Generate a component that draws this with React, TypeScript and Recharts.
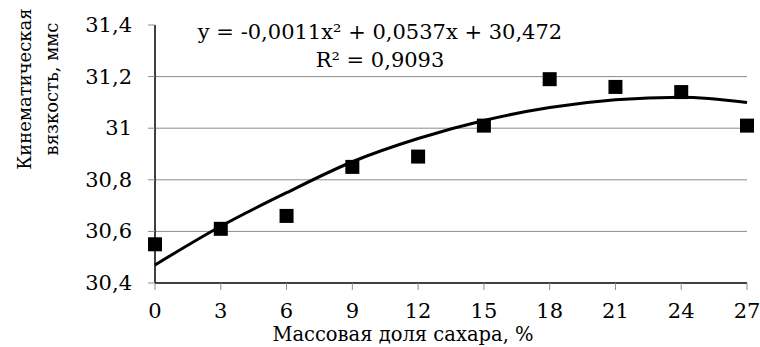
import React from "react";
import {
  ComposedChart,
  Scatter,
  Line,
  XAxis,
  YAxis,
  ReferenceLine,
  Customized,
} from "recharts";

const sugarShare = [0, 3, 6, 9, 12, 15, 18, 21, 24, 27];
const viscosity = [30.55, 30.61, 30.66, 30.85, 30.89, 31.01, 31.19, 31.16, 31.14, 31.01];
// trend line values at each x
const trendValues = [30.47, 30.62, 30.75, 30.87, 30.96, 31.03, 31.08, 31.11, 31.12, 31.1];
const yTicks = [30.4, 30.6, 30.8, 31, 31.2, 31.4];
const gridValues = [30.6, 30.8, 31, 31.2];

const points = sugarShare.map((x, i) => ({ x, y: viscosity[i] }));
const trend = sugarShare.map((x, i) => ({ x, t: trendValues[i] }));

const FONT = "DejaVu Serif";

const fmt = (v: number) =>
  Number.isInteger(v) ? String(v) : v.toFixed(1).replace(".", ",");

const Square = (props: any) => {
  const { cx, cy } = props;
  return <rect x={cx - 7} y={cy - 7} width={14} height={14} fill="#000" />;
};

const XTick = (props: any) => {
  const { x, y, payload } = props;
  return (
    <text x={x} y={y} dy={28} textAnchor="middle" fontSize={21} fill="#000" style={{ fontFamily: FONT }}>
      {payload.value}
    </text>
  );
};

const YTick = (props: any) => {
  const { x, y, payload } = props;
  return (
    <text x={x} y={y} dy={7} textAnchor="end" fontSize={21} fill="#000" style={{ fontFamily: FONT }}>
      {fmt(payload.value)}
    </text>
  );
};

const Texts = () => (
  <g fill="#000" style={{ fontFamily: FONT }}>
    <text x={380} y={39} fontSize={21} textAnchor="middle" style={{ fontFamily: FONT }}>
      y = -0,0011x² + 0,0537x + 30,472
    </text>
    <text x={380} y={67} fontSize={21} textAnchor="middle" style={{ fontFamily: FONT }}>
      R² = 0,9093
    </text>
    <text x={31} y={89} fontSize={18} textAnchor="middle" transform="rotate(-90 31 89)" style={{ fontFamily: FONT }}>
      Кинематическая
    </text>
    <text x={58} y={89} fontSize={18} textAnchor="middle" transform="rotate(-90 58 89)" style={{ fontFamily: FONT }}>
      вязкость, ммс
    </text>
    <text x={403} y={341} fontSize={19.5} textAnchor="middle" style={{ fontFamily: FONT }}>
      Массовая доля сахара, %
    </text>
  </g>
);

export default function App() {
  return (
    <div style={{ position: "absolute", left: 0, top: 0, background: "#fff" }}>
      <ComposedChart
        width={760}
        height={347}
        margin={{ top: 25, right: 13, bottom: 0, left: 0 }}
      >
        {gridValues.map((v) => (
          <ReferenceLine key={v} y={v} stroke="#8c8c8c" strokeWidth={1} />
        ))}
        <XAxis
          dataKey="x"
          type="number"
          domain={[0, 27]}
          ticks={sugarShare}
          height={64}
          tickSize={7}
          tickMargin={0}
          axisLine={{ stroke: "#000", strokeWidth: 1.5 }}
          tickLine={{ stroke: "#8c8c8c" }}
          tick={<XTick />}
          allowDuplicatedCategory={false}
        />
        <YAxis
          type="number"
          domain={[30.4, 31.4]}
          ticks={yTicks}
          width={155}
          tickSize={7}
          tickMargin={16}
          axisLine={{ stroke: "#000", strokeWidth: 1.5 }}
          tickLine={{ stroke: "#8c8c8c" }}
          tick={<YTick />}
        />
        <Line
          data={trend}
          dataKey="t"
          type="monotone"
          stroke="#000"
          strokeWidth={3}
          dot={false}
          activeDot={false}
          isAnimationActive={false}
        />
        <Scatter
          data={points}
          dataKey="y"
          shape={Square}
          isAnimationActive={false}
        />
        <Customized component={Texts} />
      </ComposedChart>
    </div>
  );
}
